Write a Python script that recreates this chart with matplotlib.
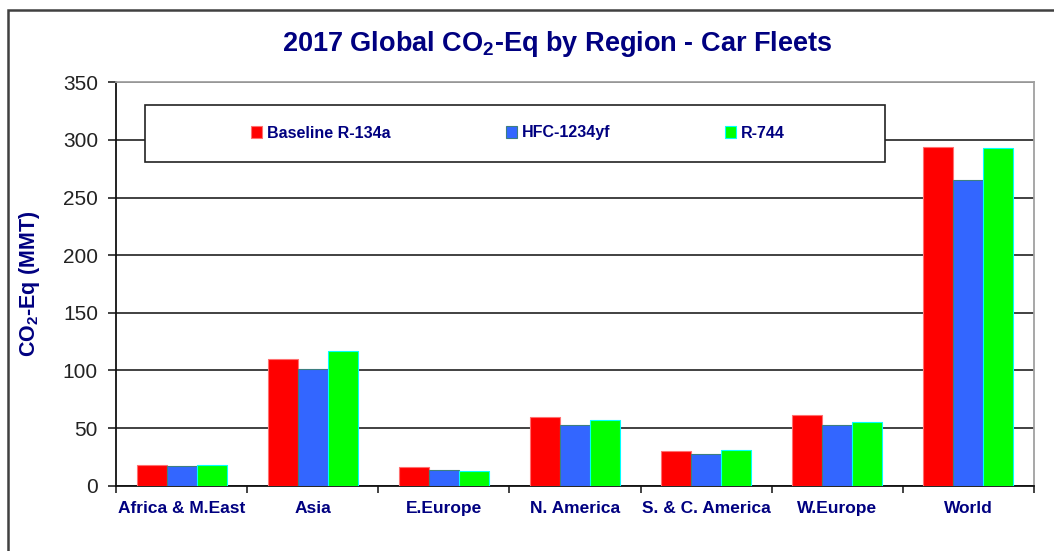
import matplotlib
matplotlib.use("Agg")
import matplotlib.pyplot as plt
import numpy as np
from matplotlib.patches import Rectangle, Patch

plt.rcParams['font.family'] = ['Liberation Sans', 'DejaVu Sans']
plt.rcParams['mathtext.fontset'] = 'custom'
plt.rcParams['mathtext.rm'] = 'Liberation Sans:bold'
plt.rcParams['mathtext.bf'] = 'Liberation Sans:bold'
plt.rcParams['mathtext.default'] = 'bf'

regions = ["Africa & M.East", "Asia", "E.Europe", "N. America",
           "S. & C. America", "W.Europe", "World"]
series_names = ["Baseline R-134a", "HFC-1234yf", "R-744"]
baseline = [18.2, 109.9, 16.0, 59.3, 30.4, 61.6, 293.6]
hfc1234yf = [17.0, 101.2, 13.3, 53.0, 27.8, 53.0, 265.5]
r744 = [17.9, 116.9, 13.0, 56.7, 31.2, 55.3, 293.0]
yticks = [0, 50, 100, 150, 200, 250, 300, 350]

colors = ["#FF0000", "#3366FF", "#00FF00"]
edges = ["#FF7070", "#3D7F80", "#00FFFF"]
navy = "#000080"

W, H = 1054, 551
fig = plt.figure(figsize=(W / 100, H / 100), dpi=100)
ax = fig.add_axes([116 / W, 1 - 485.7 / H, (1034 - 116) / W, (485.7 - 82.3) / H])

x = np.arange(len(regions))
bw = 0.229
for i, (vals, c, ec, name) in enumerate(zip([baseline, hfc1234yf, r744], colors, edges, series_names)):
    ax.bar(x + (i - 1) * bw, vals, width=bw, color=c, edgecolor=ec, linewidth=0.8,
           label=name, zorder=3)

ax.set_xlim(-0.5, len(regions) - 0.5)
ax.set_ylim(0, 350)
ax.set_yticks(yticks)
ax.set_yticklabels([str(v) for v in yticks], fontsize=15, color="#222222")
ax.yaxis.grid(True, color="#333333", linewidth=1.3, zorder=0)
ax.set_axisbelow(True)
ax.tick_params(axis='y', direction='out', length=6, width=1.2, color='#222222', pad=7)

ax.set_xticks(x)
ax.set_xticklabels(regions, fontsize=12.5, fontweight='bold', color=navy)
ax.tick_params(axis='x', length=0, pad=11)
ax.set_xticks(np.arange(len(regions) + 1) - 0.5, minor=True)
ax.tick_params(axis='x', which='minor', direction='out', length=5, width=1.2, color='#222222')

ax.spines['left'].set_color('#111111')
ax.spines['left'].set_linewidth(1.3)
ax.spines['bottom'].set_color('#111111')
ax.spines['bottom'].set_linewidth(1.3)
ax.spines['top'].set_color('#A0A0A0')
ax.spines['top'].set_linewidth(1.3)
ax.spines['right'].set_color('#A0A0A0')
ax.spines['right'].set_linewidth(1.3)

# outer chart border
fig.patches.append(Rectangle((8 / W, -0.05), 1.1, 1 - 10 / H + 0.05, transform=fig.transFigure,
                             fill=False, edgecolor='#404040', linewidth=1.8))

# title
fig.text(557 / W, 1 - 44 / H, r"2017 Global CO$_2$-Eq by Region - Car Fleets",
         ha='center', va='center', fontsize=19.5, fontweight='bold', color=navy)

# y label
fig.text(30 / W, 1 - 284 / H, r"CO$_2$-Eq (MMT)", rotation=90, ha='center', va='center',
         fontsize=15.5, fontweight='bold', color=navy)

# legend box
fig.patches.append(Rectangle((145 / W, 1 - 162 / H), (885 - 145) / W, (162 - 105) / H,
                             transform=fig.transFigure, facecolor='white',
                             edgecolor='#222222', linewidth=1.2, zorder=5))
handles = [Patch(facecolor=c, edgecolor=ec, linewidth=0.8) for c, ec in zip(colors, edges)]
leg = fig.legend(handles, series_names, loc='center', bbox_to_anchor=(518 / W, 1 - 133 / H),
                 ncol=3, frameon=False, fontsize=11.5, handlelength=0.7, handleheight=0.7,
                 handletextpad=0.3, columnspacing=7.2)
for t in leg.get_texts():
    t.set_color(navy)
    t.set_fontweight('bold')
leg.set_zorder(6)

fig.savefig("out.png", dpi=100)
